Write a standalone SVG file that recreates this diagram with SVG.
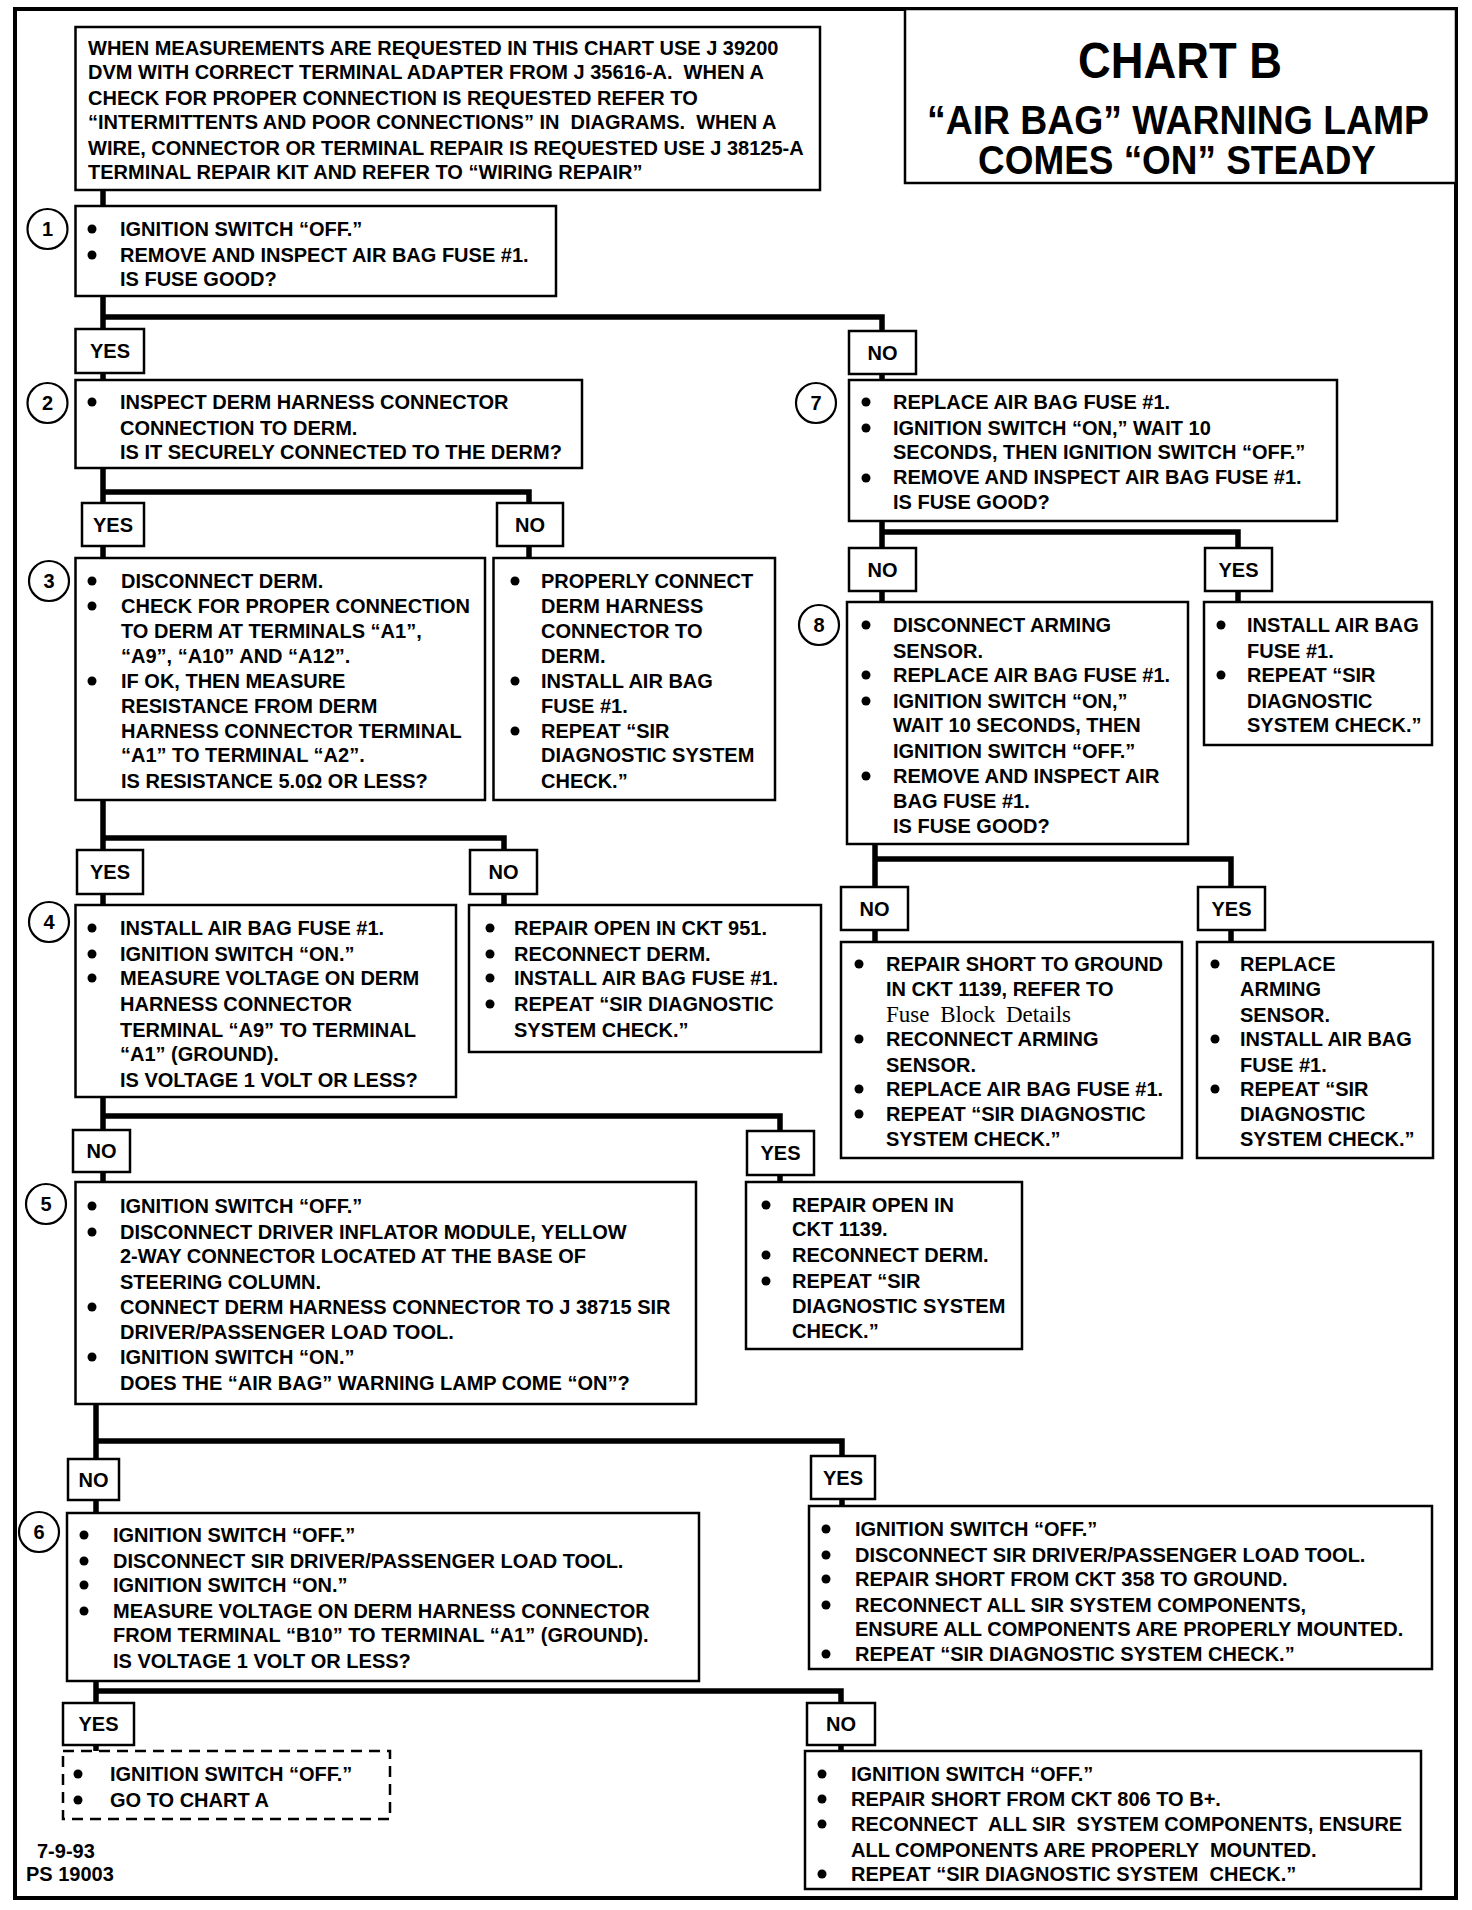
<svg xmlns="http://www.w3.org/2000/svg" width="1472" height="1910" viewBox="0 0 1472 1910">
<style>
.bg{fill:#fff}
.frame{fill:none;stroke:#000;stroke-width:4}
.box{fill:#fff;stroke:#000;stroke-width:2.5}
.dash{fill:#fff;stroke:#000;stroke-width:2.5;stroke-dasharray:11 7}
.num{fill:#fff;stroke:#000;stroke-width:2.2}
.t{font-family:"Liberation Sans",Arial,sans-serif;font-weight:bold;font-size:20px;fill:#000}
.tn{font-family:"Liberation Sans",Arial,sans-serif;font-weight:bold;font-size:20px;fill:#000;text-anchor:middle}
.serif{font-family:"Liberation Serif","Times New Roman",serif;font-weight:normal;font-size:23px;word-spacing:5px}
.title{font-family:"Liberation Sans",Arial,sans-serif;font-weight:bold;fill:#000;text-anchor:middle}
.c{fill:none;stroke:#000;stroke-width:5.5;stroke-linejoin:miter;stroke-linecap:butt}
.b{fill:#000}
</style>
<defs>
<circle id="bul" r="4.5" class="b"/>
</defs>
<rect class="bg" x="0" y="0" width="1472" height="1910"/>
<rect class="frame" x="15" y="9" width="1441" height="1889"/>

<g id="connectors">
<path class="c" d="M103 190V206"/>
<path class="c" d="M103 296V329M103 317H882V331"/>
<path class="c" d="M103 373V380M882 374V380"/>
<path class="c" d="M103 468V503M103 492H529V503"/>
<path class="c" d="M103 546V558M529 546V558"/>
<path class="c" d="M103 800V850M103 838H504V850"/>
<path class="c" d="M103 894V905M504 894V905"/>
<path class="c" d="M103 1097V1130M103 1116H780V1131"/>
<path class="c" d="M103 1172V1182M780 1175V1182"/>
<path class="c" d="M96 1404V1459M96 1441H842V1456"/>
<path class="c" d="M96 1500V1513M842 1499V1506"/>
<path class="c" d="M96 1681V1703M96 1691H841V1703"/>
<path class="c" d="M96 1745V1751M841 1745V1751"/>
<path class="c" d="M882 521V548M882 532H1238V548"/>
<path class="c" d="M882 591V602M1238 591V602"/>
<path class="c" d="M875 844V887M875 859H1231V887"/>
<path class="c" d="M875 930V942M1231 930V942"/>
</g>

<g id="title">
<rect class="box" x="905" y="9" width="551" height="174"/>
<text class="title" x="1180" y="78" font-size="50" textLength="204" lengthAdjust="spacingAndGlyphs">CHART B</text>
<text class="title" x="1178" y="134" font-size="40" textLength="502" lengthAdjust="spacingAndGlyphs">“AIR BAG” WARNING LAMP</text>
<text class="title" x="1177" y="174" font-size="40" textLength="398" lengthAdjust="spacingAndGlyphs">COMES “ON” STEADY</text>
</g>

<g id="header">
<rect class="box" x="75.5" y="27" width="744.5" height="163"/>
<text class="t" xml:space="preserve"><tspan x="88" y="55">WHEN MEASUREMENTS ARE REQUESTED IN THIS CHART USE J 39200</tspan><tspan x="88" y="79">DVM WITH CORRECT TERMINAL ADAPTER FROM J 35616-A.  WHEN A</tspan><tspan x="88" y="105">CHECK FOR PROPER CONNECTION IS REQUESTED REFER TO</tspan><tspan x="88" y="129">“INTERMITTENTS AND POOR CONNECTIONS” IN  DIAGRAMS.  WHEN A</tspan><tspan x="88" y="155">WIRE, CONNECTOR OR TERMINAL REPAIR IS REQUESTED USE J 38125-A</tspan><tspan x="88" y="179">TERMINAL REPAIR KIT AND REFER TO “WIRING REPAIR”</tspan></text>
</g>

<g id="n1">
<rect class="box" x="75.5" y="206" width="480.5" height="90"/>
<circle class="num" cx="47.5" cy="229" r="20"/><text class="tn" x="47.5" y="236">1</text>
<use href="#bul" x="92" y="229"/><use href="#bul" x="92" y="255"/>
<text class="t"><tspan x="120" y="236">IGNITION SWITCH “OFF.”</tspan><tspan x="120" y="262">REMOVE AND INSPECT AIR BAG FUSE #1.</tspan><tspan x="120" y="286">IS FUSE GOOD?</tspan></text>
</g>

<g id="l1yes"><rect class="box" x="75.5" y="329" width="68.5" height="44"/><text class="tn" x="110" y="358">YES</text></g>
<g id="l1no"><rect class="box" x="849" y="331" width="67" height="43"/><text class="tn" x="882.5" y="360">NO</text></g>

<g id="n2">
<rect class="box" x="75.5" y="380" width="506.5" height="88"/>
<circle class="num" cx="47.5" cy="403" r="20"/><text class="tn" x="47.5" y="410">2</text>
<use href="#bul" x="92" y="402"/>
<text class="t"><tspan x="120" y="409">INSPECT DERM HARNESS CONNECTOR</tspan><tspan x="120" y="435">CONNECTION TO DERM.</tspan><tspan x="120" y="459">IS IT SECURELY CONNECTED TO THE DERM?</tspan></text>
</g>

<g id="n7">
<rect class="box" x="849" y="380" width="488" height="141"/>
<circle class="num" cx="816" cy="403" r="20"/><text class="tn" x="816" y="410">7</text>
<use href="#bul" x="866" y="402"/><use href="#bul" x="866" y="428"/><use href="#bul" x="866" y="478"/>
<text class="t"><tspan x="893" y="409">REPLACE AIR BAG FUSE #1.</tspan><tspan x="893" y="435">IGNITION SWITCH “ON,” WAIT 10</tspan><tspan x="893" y="459">SECONDS, THEN IGNITION SWITCH “OFF.”</tspan><tspan x="893" y="484">REMOVE AND INSPECT AIR BAG FUSE #1.</tspan><tspan x="893" y="509">IS FUSE GOOD?</tspan></text>
</g>

<g id="l2yes"><rect class="box" x="82" y="503" width="62" height="43"/><text class="tn" x="113" y="532">YES</text></g>
<g id="l2no"><rect class="box" x="497" y="503" width="66" height="43"/><text class="tn" x="530" y="532">NO</text></g>

<g id="n3">
<rect class="box" x="75.5" y="558" width="409.5" height="242"/>
<circle class="num" cx="49" cy="581" r="20"/><text class="tn" x="49" y="588">3</text>
<use href="#bul" x="92" y="581"/><use href="#bul" x="92" y="606"/><use href="#bul" x="92" y="681"/>
<text class="t"><tspan x="121" y="588">DISCONNECT DERM.</tspan><tspan x="121" y="613">CHECK FOR PROPER CONNECTION</tspan><tspan x="121" y="638">TO DERM AT TERMINALS “A1”,</tspan><tspan x="121" y="663">“A9”, “A10” AND “A12”.</tspan><tspan x="121" y="688">IF OK, THEN MEASURE</tspan><tspan x="121" y="713">RESISTANCE FROM DERM</tspan><tspan x="121" y="738">HARNESS CONNECTOR TERMINAL</tspan><tspan x="121" y="762">“A1” TO TERMINAL “A2”.</tspan><tspan x="121" y="788">IS RESISTANCE 5.0Ω OR LESS?</tspan></text>
</g>

<g id="n3no">
<rect class="box" x="493.5" y="558" width="281.5" height="242"/>
<use href="#bul" x="515" y="581"/><use href="#bul" x="515" y="681"/><use href="#bul" x="515" y="731"/>
<text class="t"><tspan x="541" y="588">PROPERLY CONNECT</tspan><tspan x="541" y="613">DERM HARNESS</tspan><tspan x="541" y="638">CONNECTOR TO</tspan><tspan x="541" y="663">DERM.</tspan><tspan x="541" y="688">INSTALL AIR BAG</tspan><tspan x="541" y="713">FUSE #1.</tspan><tspan x="541" y="738">REPEAT “SIR</tspan><tspan x="541" y="762">DIAGNOSTIC SYSTEM</tspan><tspan x="541" y="788">CHECK.”</tspan></text>
</g>

<g id="l7no"><rect class="box" x="849" y="548" width="67" height="43"/><text class="tn" x="882.5" y="577">NO</text></g>
<g id="l7yes"><rect class="box" x="1205" y="548" width="67" height="43"/><text class="tn" x="1238.5" y="577">YES</text></g>

<g id="n8">
<rect class="box" x="847" y="602" width="341" height="242"/>
<circle class="num" cx="819" cy="625" r="20"/><text class="tn" x="819" y="632">8</text>
<use href="#bul" x="866" y="625"/><use href="#bul" x="866" y="675"/><use href="#bul" x="866" y="701"/><use href="#bul" x="866" y="776"/>
<text class="t"><tspan x="893" y="632">DISCONNECT ARMING</tspan><tspan x="893" y="658">SENSOR.</tspan><tspan x="893" y="682">REPLACE AIR BAG FUSE #1.</tspan><tspan x="893" y="708">IGNITION SWITCH “ON,”</tspan><tspan x="893" y="732">WAIT 10 SECONDS, THEN</tspan><tspan x="893" y="758">IGNITION SWITCH “OFF.”</tspan><tspan x="893" y="783">REMOVE AND INSPECT AIR</tspan><tspan x="893" y="808">BAG FUSE #1.</tspan><tspan x="893" y="833">IS FUSE GOOD?</tspan></text>
</g>

<g id="n7yes">
<rect class="box" x="1204" y="602" width="228" height="143"/>
<use href="#bul" x="1221" y="625"/><use href="#bul" x="1221" y="675"/>
<text class="t"><tspan x="1247" y="632">INSTALL AIR BAG</tspan><tspan x="1247" y="658">FUSE #1.</tspan><tspan x="1247" y="682">REPEAT “SIR</tspan><tspan x="1247" y="708">DIAGNOSTIC</tspan><tspan x="1247" y="732">SYSTEM CHECK.”</tspan></text>
</g>

<g id="l3yes"><rect class="box" x="77" y="850" width="66" height="44"/><text class="tn" x="110" y="879">YES</text></g>
<g id="l3no"><rect class="box" x="470" y="850" width="67" height="44"/><text class="tn" x="503.5" y="879">NO</text></g>

<g id="n4">
<rect class="box" x="75.5" y="905" width="380.5" height="192"/>
<circle class="num" cx="49" cy="922" r="20"/><text class="tn" x="49" y="929">4</text>
<use href="#bul" x="92" y="928"/><use href="#bul" x="92" y="954"/><use href="#bul" x="92" y="978"/>
<text class="t"><tspan x="120" y="935">INSTALL AIR BAG FUSE #1.</tspan><tspan x="120" y="961">IGNITION SWITCH “ON.”</tspan><tspan x="120" y="985">MEASURE VOLTAGE ON DERM</tspan><tspan x="120" y="1011">HARNESS CONNECTOR</tspan><tspan x="120" y="1037">TERMINAL “A9” TO TERMINAL</tspan><tspan x="120" y="1061">“A1” (GROUND).</tspan><tspan x="120" y="1087">IS VOLTAGE 1 VOLT OR LESS?</tspan></text>
</g>

<g id="n4no">
<rect class="box" x="469" y="905" width="352" height="147"/>
<use href="#bul" x="490" y="928"/><use href="#bul" x="490" y="954"/><use href="#bul" x="490" y="978"/><use href="#bul" x="490" y="1004"/>
<text class="t"><tspan x="514" y="935">REPAIR OPEN IN CKT 951.</tspan><tspan x="514" y="961">RECONNECT DERM.</tspan><tspan x="514" y="985">INSTALL AIR BAG FUSE #1.</tspan><tspan x="514" y="1011">REPEAT “SIR DIAGNOSTIC</tspan><tspan x="514" y="1037">SYSTEM CHECK.”</tspan></text>
</g>

<g id="l8no"><rect class="box" x="841" y="887" width="67" height="43"/><text class="tn" x="874.5" y="916">NO</text></g>
<g id="l8yes"><rect class="box" x="1198" y="887" width="67" height="43"/><text class="tn" x="1231.5" y="916">YES</text></g>

<g id="n8no">
<rect class="box" x="841" y="942" width="341" height="216"/>
<use href="#bul" x="859" y="964"/><use href="#bul" x="859" y="1039"/><use href="#bul" x="859" y="1089"/><use href="#bul" x="859" y="1114"/>
<text class="t"><tspan x="886" y="971">REPAIR SHORT TO GROUND</tspan><tspan x="886" y="996">IN CKT 1139, REFER TO</tspan><tspan x="886" y="1022" class="serif">Fuse Block Details</tspan><tspan x="886" y="1046">RECONNECT ARMING</tspan><tspan x="886" y="1072">SENSOR.</tspan><tspan x="886" y="1096">REPLACE AIR BAG FUSE #1.</tspan><tspan x="886" y="1121">REPEAT “SIR DIAGNOSTIC</tspan><tspan x="886" y="1146">SYSTEM CHECK.”</tspan></text>
</g>

<g id="n8yes">
<rect class="box" x="1197" y="942" width="236" height="216"/>
<use href="#bul" x="1215" y="964"/><use href="#bul" x="1215" y="1039"/><use href="#bul" x="1215" y="1089"/>
<text class="t"><tspan x="1240" y="971">REPLACE</tspan><tspan x="1240" y="996">ARMING</tspan><tspan x="1240" y="1022">SENSOR.</tspan><tspan x="1240" y="1046">INSTALL AIR BAG</tspan><tspan x="1240" y="1072">FUSE #1.</tspan><tspan x="1240" y="1096">REPEAT “SIR</tspan><tspan x="1240" y="1121">DIAGNOSTIC</tspan><tspan x="1240" y="1146">SYSTEM CHECK.”</tspan></text>
</g>

<g id="l4no"><rect class="box" x="73" y="1130" width="57" height="42"/><text class="tn" x="101.5" y="1158">NO</text></g>
<g id="l4yes"><rect class="box" x="747" y="1131" width="67" height="44"/><text class="tn" x="780.5" y="1160">YES</text></g>

<g id="n5">
<rect class="box" x="75.5" y="1182" width="620.5" height="222"/>
<circle class="num" cx="46" cy="1204" r="20"/><text class="tn" x="46" y="1211">5</text>
<use href="#bul" x="92" y="1206"/><use href="#bul" x="92" y="1232"/><use href="#bul" x="92" y="1307"/><use href="#bul" x="92" y="1357"/>
<text class="t"><tspan x="120" y="1213">IGNITION SWITCH “OFF.”</tspan><tspan x="120" y="1239">DISCONNECT DRIVER INFLATOR MODULE, YELLOW</tspan><tspan x="120" y="1263">2-WAY CONNECTOR LOCATED AT THE BASE OF</tspan><tspan x="120" y="1289">STEERING COLUMN.</tspan><tspan x="120" y="1314">CONNECT DERM HARNESS CONNECTOR TO J 38715 SIR</tspan><tspan x="120" y="1339">DRIVER/PASSENGER LOAD TOOL.</tspan><tspan x="120" y="1364">IGNITION SWITCH “ON.”</tspan><tspan x="120" y="1390">DOES THE “AIR BAG” WARNING LAMP COME “ON”?</tspan></text>
</g>

<g id="n4yes">
<rect class="box" x="746" y="1182" width="276" height="167"/>
<use href="#bul" x="766" y="1205"/><use href="#bul" x="766" y="1255"/><use href="#bul" x="766" y="1281"/>
<text class="t"><tspan x="792" y="1212">REPAIR OPEN IN</tspan><tspan x="792" y="1236">CKT 1139.</tspan><tspan x="792" y="1262">RECONNECT DERM.</tspan><tspan x="792" y="1288">REPEAT “SIR</tspan><tspan x="792" y="1313">DIAGNOSTIC SYSTEM</tspan><tspan x="792" y="1338">CHECK.”</tspan></text>
</g>

<g id="l5no"><rect class="box" x="68" y="1459" width="51" height="41"/><text class="tn" x="93.5" y="1487">NO</text></g>
<g id="l5yes"><rect class="box" x="811" y="1456" width="64" height="43"/><text class="tn" x="843" y="1485">YES</text></g>

<g id="n6">
<rect class="box" x="67" y="1513" width="632" height="168"/>
<circle class="num" cx="39" cy="1532" r="20"/><text class="tn" x="39" y="1539">6</text>
<use href="#bul" x="84" y="1535"/><use href="#bul" x="84" y="1561"/><use href="#bul" x="84" y="1585"/><use href="#bul" x="84" y="1611"/>
<text class="t"><tspan x="113" y="1542">IGNITION SWITCH “OFF.”</tspan><tspan x="113" y="1568">DISCONNECT SIR DRIVER/PASSENGER LOAD TOOL.</tspan><tspan x="113" y="1592">IGNITION SWITCH “ON.”</tspan><tspan x="113" y="1618">MEASURE VOLTAGE ON DERM HARNESS CONNECTOR</tspan><tspan x="113" y="1642">FROM TERMINAL “B10” TO TERMINAL “A1” (GROUND).</tspan><tspan x="113" y="1668">IS VOLTAGE 1 VOLT OR LESS?</tspan></text>
</g>

<g id="n5yes">
<rect class="box" x="809" y="1506" width="623" height="163"/>
<use href="#bul" x="826" y="1529"/><use href="#bul" x="826" y="1555"/><use href="#bul" x="826" y="1579"/><use href="#bul" x="826" y="1605"/><use href="#bul" x="826" y="1654"/>
<text class="t"><tspan x="855" y="1536">IGNITION SWITCH “OFF.”</tspan><tspan x="855" y="1562">DISCONNECT SIR DRIVER/PASSENGER LOAD TOOL.</tspan><tspan x="855" y="1586">REPAIR SHORT FROM CKT 358 TO GROUND.</tspan><tspan x="855" y="1612">RECONNECT ALL SIR SYSTEM COMPONENTS,</tspan><tspan x="855" y="1636">ENSURE ALL COMPONENTS ARE PROPERLY MOUNTED.</tspan><tspan x="855" y="1661">REPEAT “SIR DIAGNOSTIC SYSTEM CHECK.”</tspan></text>
</g>

<g id="l6yes"><rect class="box" x="63" y="1703" width="71" height="42"/><text class="tn" x="98.5" y="1731">YES</text></g>
<g id="l6no"><rect class="box" x="807" y="1703" width="68" height="42"/><text class="tn" x="841" y="1731">NO</text></g>

<g id="n6yes">
<rect class="dash" x="63" y="1751" width="327" height="68"/>
<use href="#bul" x="78" y="1774"/><use href="#bul" x="78" y="1800"/>
<text class="t"><tspan x="110" y="1781">IGNITION SWITCH “OFF.”</tspan><tspan x="110" y="1807">GO TO CHART A</tspan></text>
</g>

<g id="n6no">
<rect class="box" x="805" y="1751" width="616" height="138"/>
<use href="#bul" x="822" y="1774"/><use href="#bul" x="822" y="1799"/><use href="#bul" x="822" y="1824"/><use href="#bul" x="822" y="1874"/>
<text class="t" xml:space="preserve"><tspan x="851" y="1781">IGNITION SWITCH “OFF.”</tspan><tspan x="851" y="1806">REPAIR SHORT FROM CKT 806 TO B+.</tspan><tspan x="851" y="1831">RECONNECT  ALL SIR  SYSTEM COMPONENTS, ENSURE</tspan><tspan x="851" y="1857">ALL COMPONENTS ARE PROPERLY  MOUNTED.</tspan><tspan x="851" y="1881">REPEAT “SIR DIAGNOSTIC SYSTEM  CHECK.”</tspan></text>
</g>

<g id="footer">
<text class="t"><tspan x="37" y="1858">7-9-93</tspan><tspan x="26" y="1881">PS 19003</tspan></text>
</g>
</svg>
